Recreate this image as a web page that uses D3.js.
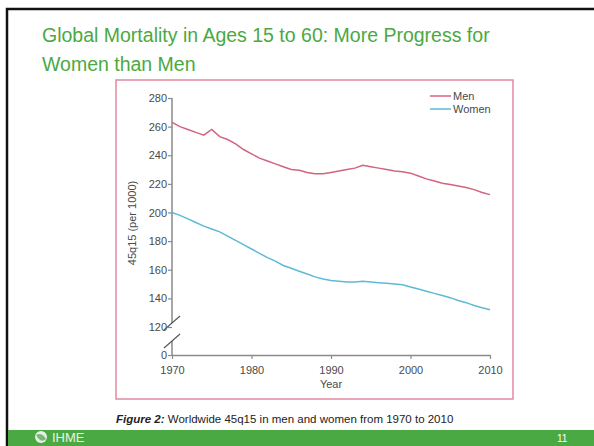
<!DOCTYPE html>
<html>
<head>
<meta charset="utf-8">
<script src="https://cdn.jsdelivr.net/npm/d3@7"></script>
<style>
  body { margin: 0; background: #fff; }
  svg text { font-family: "Liberation Sans", Arial, sans-serif; }
</style>
</head>
<body>
<div id="my_dataviz"></div>
<script>
// values (45q15 per 1000)
var years = d3.range(1970, 2011);
var men = [263, 260, 258, 256, 254, 258, 253, 251, 248, 244,
           241, 238, 236, 234, 232, 230, 229.5, 228, 227, 227,
           228, 229, 230, 231, 233, 232, 231, 230, 229, 228.5,
           227.5, 225.5, 223.5, 222, 220.5, 219.5, 218.5, 217.5, 216, 214,
           212.5];
var women = [200, 198, 195.5, 193, 190.5, 188.5, 186.5, 183.5, 180.5, 177.5,
             174.5, 171.5, 168.5, 166, 163, 161, 159, 157, 155, 153.5,
             152.5, 152, 151.5, 151.5, 152, 151.5, 151, 150.5, 150, 149.5,
             148, 146.5, 145, 143.5, 142, 140.5, 138.5, 137, 135, 133.5,
             132];
var xTicks = [1970, 1980, 1990, 2000, 2010];
var yTicks = [0, 120, 140, 160, 180, 200, 220, 240, 260, 280];
var seriesNames = ["Men", "Women"];

var W = 594, H = 446;
var green = "#4aa942", pink = "#df8aa0";
var colMen = "#d2647f", colWomen = "#5dbad6", axisCol = "#8a8a8a", txtCol = "#4a4a4a";

var svg = d3.select("#my_dataviz")
  .append("svg")
    .attr("width", W)
    .attr("height", H);

// slide frame
svg.append("rect").attr("x", 0).attr("y", 0).attr("width", W).attr("height", H).attr("fill", "#fff");
svg.append("path")
  .attr("d", "M7," + H + "V9H" + W)
  .attr("fill", "none").attr("stroke", "#111").attr("stroke-width", 2.5);

// title
svg.append("text").attr("x", 42).attr("y", 42)
  .attr("font-size", 19.5).attr("fill", green)
  .text("Global Mortality in Ages 15 to 60: More Progress for");
svg.append("text").attr("x", 42).attr("y", 71)
  .attr("font-size", 19.5).attr("fill", green)
  .text("Women than Men");

// pink figure box
svg.append("rect")
  .attr("x", 116).attr("y", 80).attr("width", 397).attr("height", 319)
  .attr("fill", "none").attr("stroke", pink).attr("stroke-width", 1.5);

// scales (broken y axis: 0 sits just below 120)
var x = d3.scaleLinear().domain([1970, 2010]).range([172, 490]);
var y = d3.scaleLinear().domain([0, 120, 280]).range([355, 327, 98]);

// x axis
var axis_x = svg.append("g")
  .attr("transform", "translate(0," + y(0) + ")")
  .call(d3.axisBottom(x).tickValues(xTicks).tickFormat(d3.format("d")).tickSize(4).tickSizeOuter(0));
axis_x.select(".domain").attr("stroke", axisCol).attr("stroke-width", 1.5);
axis_x.selectAll(".tick line").attr("stroke", axisCol).attr("stroke-width", 1.2);
axis_x.selectAll(".tick text")
  .attr("font-size", 11).attr("fill", txtCol)
  .attr("font-family", "Liberation Sans, Arial, sans-serif")
  .attr("dy", "1.05em");

// y axis (domain drawn by hand for the break)
var axis_y = svg.append("g")
  .attr("transform", "translate(" + x(1970) + ",0)")
  .call(d3.axisLeft(y).tickValues(yTicks).tickSize(4).tickSizeOuter(0));
axis_y.select(".domain").remove();
axis_y.selectAll(".tick line").attr("stroke", axisCol).attr("stroke-width", 1.2);
axis_y.selectAll(".tick text")
  .attr("font-size", 11).attr("fill", txtCol)
  .attr("font-family", "Liberation Sans, Arial, sans-serif")
  .attr("x", -5);

var brk1 = y(120) - 4, brk2 = y(0) - 14;
axis_y.append("line").attr("x1", 0).attr("x2", 0).attr("y1", y(280)).attr("y2", brk1)
  .attr("stroke", axisCol).attr("stroke-width", 1.5);
axis_y.append("line").attr("x1", 0).attr("x2", 0).attr("y1", brk2).attr("y2", y(0))
  .attr("stroke", axisCol).attr("stroke-width", 1.5);
// break slashes
[brk1, brk2].forEach(function(b) {
  axis_y.append("line")
    .attr("x1", -8).attr("y1", b + 7).attr("x2", 8).attr("y2", b - 7)
    .attr("stroke", "#555").attr("stroke-width", 1.1);
});

// axis titles
svg.append("text")
  .attr("transform", "translate(136," + 223 + ") rotate(-90)")
  .attr("text-anchor", "middle").attr("font-size", 11).attr("fill", txtCol)
  .text("45q15 (per 1000)");
svg.append("text")
  .attr("x", x(1990)).attr("y", 388)
  .attr("text-anchor", "middle").attr("font-size", 11).attr("fill", txtCol)
  .text("Year");

// lines
var line = function(vals) {
  return d3.line()
    .x(function(d, i) { return x(years[i]); })
    .y(function(d) { return y(d); })(vals);
};
svg.append("path")
  .attr("d", line(men))
  .attr("fill", "none").attr("stroke", colMen).attr("stroke-width", 1.5);
svg.append("path")
  .attr("d", line(women))
  .attr("fill", "none").attr("stroke", colWomen).attr("stroke-width", 1.5);

// legend
var legCols = [colMen, colWomen];
seriesNames.forEach(function(n, i) {
  var ly = 96 + i * 13;
  svg.append("line").attr("x1", 430).attr("x2", 451).attr("y1", ly).attr("y2", ly)
    .attr("stroke", legCols[i]).attr("stroke-width", 1.5);
  svg.append("text").attr("x", 453).attr("y", ly + 4)
    .attr("font-size", 11).attr("fill", txtCol).text(n);
});

// caption
var cap = svg.append("text").attr("x", 116).attr("y", 423)
  .attr("font-size", 11.5).attr("fill", "#222");
cap.append("tspan").attr("font-style", "italic").attr("font-weight", "bold").text("Figure 2: ");
cap.append("tspan").text("Worldwide 45q15 in men and women from 1970 to 2010");

// footer band
svg.append("rect").attr("x", 8).attr("y", 430).attr("width", W - 8).attr("height", H - 430)
  .attr("fill", green);
svg.append("circle").attr("cx", 41).attr("cy", 437).attr("r", 6)
  .attr("fill", "#fff").attr("opacity", 0.85);
svg.append("path")
  .attr("d", "M36,435 Q42,432 46,439 Q41,444 36,435Z")
  .attr("fill", "#3a8c36").attr("opacity", 0.6);
svg.append("text").attr("x", 52).attr("y", 442)
  .attr("font-size", 13).attr("fill", "#e8f3e6").text("IHME");
svg.append("text").attr("x", 557).attr("y", 442)
  .attr("font-size", 10).attr("fill", "#fff").text("11");
</script>
</body>
</html>
